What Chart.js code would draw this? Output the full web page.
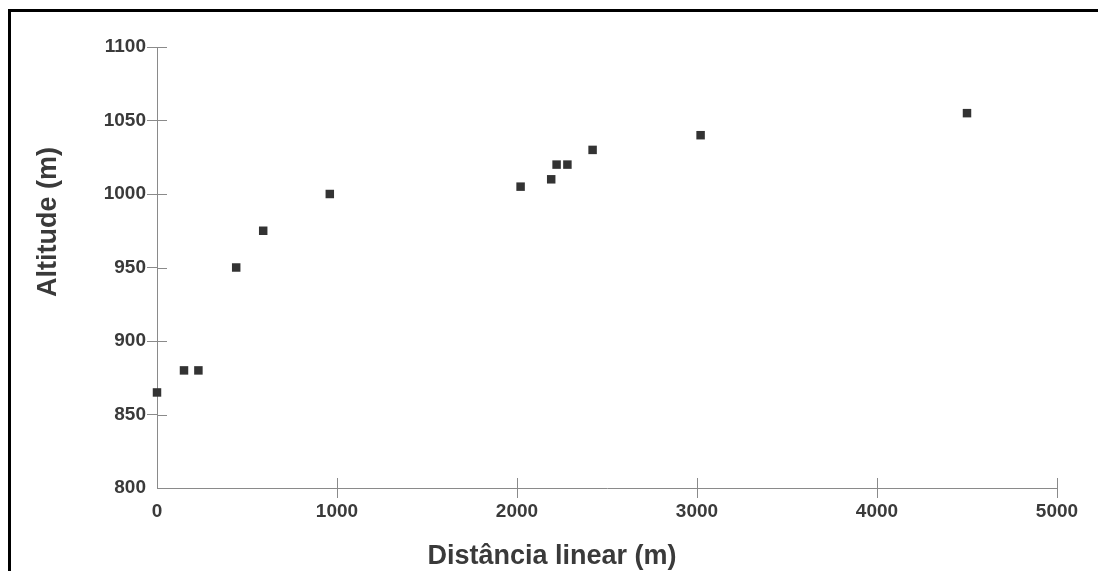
<!DOCTYPE html>
<html>
<head>
<meta charset="utf-8">
<script src="https://cdn.jsdelivr.net/npm/chart.js@4"></script>
<style>
  html, body { margin: 0; padding: 0; background: #fff; overflow: hidden; }
  #wrap { position: relative; width: 1098px; height: 571px; }
  #frame { position: absolute; left: 8px; top: 9px; width: 1200px; height: 700px;
           border-left: 3px solid #000; border-top: 3px solid #000; }
  #c { position: absolute; left: 0; top: 0; }
</style>
</head>
<body>
<div id="wrap">
  <div id="frame"></div>
  <canvas id="c" width="1098" height="571"></canvas>
</div>
<script>
// distância linear (m) / altitude (m)
var distancias = [0, 150, 230, 440, 590, 960, 2020, 2190, 2220, 2280, 2420, 3020, 4500];
var altitudes  = [865, 880, 880, 950, 975, 1000, 1005, 1010, 1020, 1020, 1030, 1040, 1055];
var xTicks = [0, 1000, 2000, 3000, 4000, 5000];
var yTicks = [800, 850, 900, 950, 1000, 1050, 1100];

var FONT = '"Liberation Sans", Arial, sans-serif';
var TXT = '#3a3a3a';
var AXIS = '#8a8a8a';

// metade interna dos traços (o Chart.js só desenha a externa) + títulos dos eixos
var extras = {
  id: 'extras',
  afterDraw: function (chart) {
    var ctx = chart.ctx, a = chart.chartArea;
    var sx = chart.scales.x, sy = chart.scales.y;
    ctx.save();
    ctx.strokeStyle = AXIS;
    ctx.lineWidth = 1;
    xTicks.forEach(function (v) {
      if (v === 0) return;
      var px = Math.round(sx.getPixelForValue(v)) + 0.5;
      ctx.beginPath(); ctx.moveTo(px, a.bottom); ctx.lineTo(px, a.bottom - 10); ctx.stroke();
    });
    yTicks.forEach(function (v) {
      if (v === 800) return;
      var py = Math.round(sy.getPixelForValue(v)) + 0.5;
      ctx.beginPath(); ctx.moveTo(a.left, py); ctx.lineTo(a.left + 10, py); ctx.stroke();
    });
    ctx.fillStyle = TXT;
    ctx.font = 'bold 27px ' + FONT;
    ctx.textAlign = 'center';
    ctx.textBaseline = 'middle';
    ctx.fillText('Distância linear (m)', 552, 557);
    ctx.translate(49, 222);
    ctx.rotate(-Math.PI / 2);
    ctx.fillText('Altitude (m)', 0, 0);
    ctx.restore();
  }
};

function tickColor(c) {
  var v = c.tick ? c.tick.value : null;
  return (v === 0 || v === 800) ? 'rgba(0,0,0,0)' : AXIS;
}
function plain(v) { return String(v); }

new Chart(document.getElementById('c'), {
  type: 'scatter',
  data: {
    datasets: [{
      data: distancias.map(function (d, i) { return { x: d, y: altitudes[i] }; }),
      pointStyle: 'rect',
      pointRadius: 6,
      pointHoverRadius: 6,
      backgroundColor: '#333333',
      borderColor: '#333333',
      borderWidth: 0,
      clip: false
    }]
  },
  options: {
    responsive: false,
    animation: false,
    events: [],
    layout: { padding: { left: 0, right: 41, top: 47, bottom: 0 } },
    plugins: { legend: { display: false }, tooltip: { enabled: false } },
    scales: {
      x: {
        type: 'linear', min: 0, max: 5000,
        afterBuildTicks: function (s) { s.ticks = xTicks.map(function (v) { return { value: v }; }); },
        afterFit: function (s) { s.height = 83; },
        grid: { drawOnChartArea: false, drawTicks: true, tickLength: 10, color: tickColor },
        border: { display: true, color: AXIS, width: 1 },
        ticks: { color: TXT, padding: 2, maxRotation: 0, callback: plain,
                 font: { family: FONT, size: 19, weight: 'bold' } }
      },
      y: {
        type: 'linear', min: 800, max: 1100,
        afterBuildTicks: function (s) { s.ticks = yTicks.map(function (v) { return { value: v }; }); },
        afterFit: function (s) { s.width = 157; },
        grid: { drawOnChartArea: false, drawTicks: true, tickLength: 10, color: tickColor },
        border: { display: true, color: AXIS, width: 1 },
        ticks: { color: TXT, padding: 1, callback: plain,
                 font: { family: FONT, size: 19, weight: 'bold' } }
      }
    }
  },
  plugins: [extras]
});
</script>
</body>
</html>
